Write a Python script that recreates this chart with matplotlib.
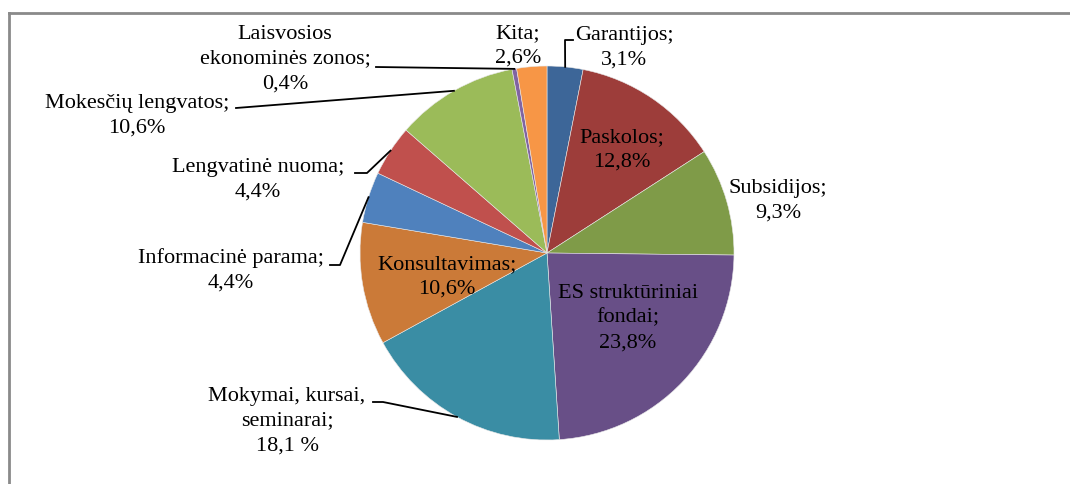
import numpy as np
import matplotlib.pyplot as plt
from matplotlib.lines import Line2D

labels = ["Garantijos", "Paskolos", "Subsidijos", "ES struktūriniai\nfondai",
          "Mokymai, kursai,\nseminarai", "Konsultavimas", "Informacinė parama",
          "Lengvatinė nuoma", "Mokesčių lengvatos", "Laisvosios\nekonominės zonos", "Kita"]
values = [3.1, 12.8, 9.3, 23.8, 18.1, 10.6, 4.4, 4.4, 10.6, 0.4, 2.6]
pct_text = ["3,1%", "12,8%", "9,3%", "23,8%", "18,1 %", "10,6%", "4,4%", "4,4%", "10,6%", "0,4%", "2,6%"]
colors = ["#3D6698", "#9D3D3A", "#7F9B48", "#684F87", "#3A8DA4", "#CB7A38",
          "#4F81BD", "#C0504D", "#9BBB59", "#8064A2", "#F79646"]

W, H = 1070, 484
cx, cy, r = 547, 253, 187   # pixel layout, y from top

# label centres (pixels, from top) and leader line start points
lab_pos = [(624, 48), (622, 150), (778, 201), (628, 318), (287, 421), (447, 277),
           (231, 270), (258, 180), (137, 116), (285, 59), (518, 46)]
leaders = {0: [(573, 40), (565, 40)],
           9: [(376, 67)],
           8: [(236, 108)],
           7: [(355, 173), (367, 173)],
           6: [(330, 265), (340, 265)],
           4: [(373, 402), (383, 402)]}

plt.rcParams['font.family'] = ['Liberation Serif', 'DejaVu Serif']

fig = plt.figure(figsize=(W / 100, H / 100), dpi=100)
ax = fig.add_axes([0, 0, 1, 1])

wedges, _ = ax.pie(values, colors=colors, startangle=90, counterclock=False,
                   center=(cx, H - cy), radius=r, frame=True,
                   wedgeprops=dict(linewidth=0.4, edgecolor='#e8e8e8'))
ax.set_xlim(0, W)
ax.set_ylim(0, H)
ax.axis('off')

for i, w in enumerate(wedges):
    x, y = lab_pos[i]
    ax.text(x, H - y, labels[i] + ";\n" + pct_text[i], ha='center', va='center',
            fontsize=16, linespacing=1.42, color='black')
    if i in leaders:
        mid = np.deg2rad((w.theta1 + w.theta2) / 2)
        pts = leaders[i] + [(cx + r * np.cos(mid), cy - r * np.sin(mid))]
        xs = [p[0] for p in pts]
        ys = [H - p[1] for p in pts]
        ax.plot(xs, ys, color='black', lw=1.3)

# chart area border (top and left only visible)
fig.add_artist(Line2D([9 / W, 1], [1 - 13 / H, 1 - 13 / H], color='#8a8a8a', lw=2))
fig.add_artist(Line2D([9 / W, 9 / W], [0, 1 - 13 / H], color='#8a8a8a', lw=2))

fig.savefig("out.png", dpi=100, facecolor='white')
